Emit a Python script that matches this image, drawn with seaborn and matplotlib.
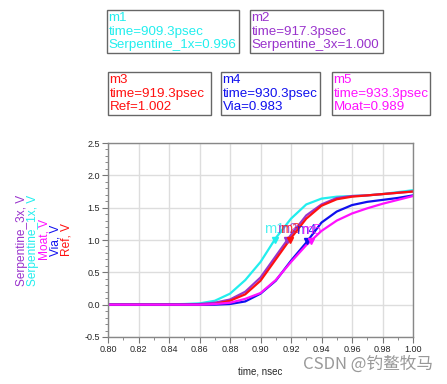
import numpy as np
import pandas as pd
import matplotlib.pyplot as plt
import seaborn as sns
from matplotlib.patches import Rectangle
from matplotlib.ticker import MultipleLocator

# Data (time in nsec, voltage in V)
time = [0.80, 0.81, 0.82, 0.83, 0.84, 0.85, 0.86, 0.87, 0.88, 0.89, 0.90,
        0.91, 0.92, 0.93, 0.94, 0.95, 0.96, 0.97, 0.98, 0.99, 1.00]
serp_1x = [0, 0, 0, 0, 0.005, 0.01, 0.02, 0.06, 0.17, 0.38, 0.66,
           1.03, 1.33, 1.55, 1.64, 1.67, 1.68, 1.69, 1.71, 1.74, 1.77]
serp_3x = [0, 0, 0, 0, 0, 0, 0.01, 0.03, 0.08, 0.20, 0.42,
           0.75, 1.08, 1.38, 1.55, 1.65, 1.68, 1.69, 1.71, 1.73, 1.75]
ref = [0, 0, 0, 0, 0, 0, 0, 0.01, 0.06, 0.16, 0.37,
       0.70, 1.03, 1.33, 1.53, 1.63, 1.67, 1.69, 1.71, 1.73, 1.75]
via = [0, 0, 0, 0, 0, 0, 0, 0, 0.01, 0.05, 0.17,
       0.37, 0.68, 0.96, 1.27, 1.44, 1.54, 1.59, 1.62, 1.65, 1.69]
moat = [0, 0, 0, 0, 0, 0, 0, 0.01, 0.03, 0.09, 0.18,
        0.38, 0.66, 0.92, 1.14, 1.30, 1.41, 1.49, 1.56, 1.62, 1.68]

series = ["Serpentine_1x", "Serpentine_3x", "Ref", "Via", "Moat"]
colors = {"Serpentine_1x": "#22eeee", "Serpentine_3x": "#9933cc",
          "Ref": "#ff1010", "Via": "#1010ee", "Moat": "#ff10ff"}

# markers m1..m5
marker_names = ["m1", "m2", "m3", "m4", "m5"]
marker_series = ["Serpentine_1x", "Serpentine_3x", "Ref", "Via", "Moat"]
marker_time = [0.9093, 0.9173, 0.9193, 0.9303, 0.9333]
marker_val = [0.996, 1.000, 1.002, 0.983, 0.989]

df = pd.DataFrame({"time": time * 5,
                   "V": serp_1x + serp_3x + ref + via + moat,
                   "trace": sum([[s] * len(time) for s in series], [])})

sns.set_style("white")
plt.rcParams['font.family'] = ['Liberation Sans', 'DejaVu Sans']

fig = plt.figure(figsize=(4.47, 3.84), dpi=100)
ax = fig.add_axes([108 / 447, 1 - 337 / 384, 305 / 447, 194 / 384])

sns.lineplot(data=df, x="time", y="V", hue="trace", palette=colors,
             linewidth=1.6, legend=False, ax=ax)

for name, s, t, v in zip(marker_names, marker_series, marker_time, marker_val):
    ax.plot(t, v, marker="v", color=colors[s], markersize=5,
            markeredgecolor=colors[s])
    ax.text(t, v + 0.06, name, color=colors[s], fontsize=10.5,
            ha="center", va="bottom", alpha=0.8)

ax.set_xlim(0.80, 1.00)
ax.set_ylim(-0.5, 2.5)
ax.xaxis.set_major_locator(MultipleLocator(0.02))
ax.xaxis.set_minor_locator(MultipleLocator(0.01))
ax.yaxis.set_major_locator(MultipleLocator(0.5))
ax.yaxis.set_minor_locator(MultipleLocator(0.1))
ax.xaxis.set_major_formatter(plt.FormatStrFormatter("%.2f"))
ax.yaxis.set_major_formatter(plt.FormatStrFormatter("%.1f"))
ax.grid(True, which="major", color="#dddddd", linewidth=1)
ax.tick_params(which="major", direction="out", length=4, color="#777777",
               labelsize=6.5, pad=2, bottom=True, left=True)
ax.tick_params(which="minor", direction="out", length=2, color="#777777",
               bottom=True, left=True)
for sp in ax.spines.values():
    sp.set_color("#888888")
    sp.set_linewidth(1)
ax.set_xlabel("time, nsec", fontsize=7, labelpad=9)
ax.set_ylabel("")

# colored stacked y labels
ylabels = [("Serpentine_3x, V", "Serpentine_3x"), ("Serpentine_1x, V", "Serpentine_1x"),
           ("Moat, V", "Moat"), ("Via, V", "Via"), ("Ref, V", "Ref")]
for i, (txt, s) in enumerate(ylabels):
    fig.text((22 + i * 11.2) / 447, 1 - 240 / 384, txt, rotation=90,
             color=colors[s], fontsize=8.6, ha="center", va="center")

# marker readout boxes
boxes = [(107, 10, 132), (250, 10, 133), (108, 72, 103), (221, 72, 99), (332, 72, 98)]
box_lines = [["m1", "time=909.3psec", "Serpentine_1x=0.996"],
             ["m2", "time=917.3psec", "Serpentine_3x=1.000"],
             ["m3", "time=919.3psec", "Ref=1.002"],
             ["m4", "time=930.3psec", "Via=0.983"],
             ["m5", "time=933.3psec", "Moat=0.989"]]
for (bx, by, bw), lines, s in zip(boxes, box_lines, marker_series):
    fig.patches.append(Rectangle((bx / 447, 1 - (by + 43) / 384), bw / 447, 43 / 384,
                                 transform=fig.transFigure, fc="white",
                                 ec="#666666", lw=1))
    for j, ln in enumerate(lines):
        fig.text((bx + 1.5) / 447, 1 - (by + 8 + j * 13.5) / 384, ln,
                 color=colors[s], fontsize=9.6, ha="left", va="center")

fig.text(433 / 447, 1 - 364 / 384, "CSDN @钓鳌牧马", color="#999999", fontsize=12,
         ha="right", va="center", family=["Noto Sans CJK SC", "DejaVu Sans"])

fig.savefig("out.png", dpi=100)
